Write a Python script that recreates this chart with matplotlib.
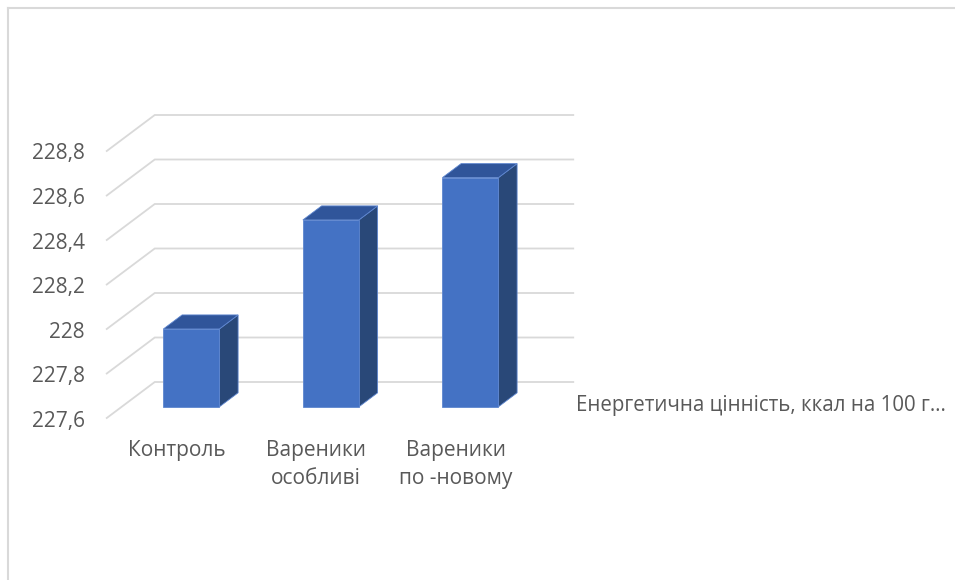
import matplotlib.pyplot as plt
from matplotlib.patches import Polygon

categories = ["Контроль", "Вареники\nособливі", "Вареники\nпо -новому"]
values = [227.95, 228.44, 228.63]
y_ticks = [227.6, 227.8, 228.0, 228.2, 228.4, 228.6, 228.8]
tick_labels = ["227,6", "227,8", "228", "228,2", "228,4", "228,6", "228,8"]
series_name = "Енергетична цінність, ккал на 100 г…"

W, H = 955, 580
px_cat = 139.5      # pixels per category step
px_val = 222.5      # pixels per value unit
x0_px, y0_px = 176.5, 418   # pixel of (category 0, 227.6) on front plane

# oblique depth: full depth in data units
depth_x = 48 / px_cat
depth_y = 36 / px_val

plt.rcParams['font.family'] = ['Open Sans', 'DejaVu Sans']
text_color = "#595959"
grid_color = "#D9D9D9"

fig = plt.figure(figsize=(W / 100, H / 100), dpi=100)
ax = fig.add_axes([0, 0, 1, 1])
ax.set_xlim(-x0_px / px_cat, (W - x0_px) / px_cat)
ax.set_ylim(227.6 - (H - y0_px) / px_val, 227.6 + y0_px / px_val)
ax.axis("off")


def proj(x, v, d):
    return x + d * depth_x, v + d * depth_y


x_left, x_right = -0.5, 2.5
vmin = y_ticks[0]

# gridlines: side wall (diagonal) and back wall
for t, lab in zip(y_ticks, tick_labels):
    fx, fy = proj(x_left, t, 0)
    bx, by = proj(x_left, t, 1)
    ex, ey = proj(x_right, t, 1)
    ax.plot([fx, bx, ex], [fy, by, ey], color=grid_color, lw=1.3,
            solid_joinstyle="miter", zorder=1)
    ax.text(fx - 22 / px_cat, fy - 3 / px_val, lab, ha="right", va="center",
            fontsize=15, color=text_color)

# 3D bars
bar_w = 56 / px_cat
d_front, d_back = 0.31, 0.70
front_c = "#4472C4"
side_c = "#294878"
top_c = "#30559A"
for i, v in enumerate(values):
    xl, xr = i - bar_w / 2, i + bar_w / 2
    front = [proj(xl, vmin, d_front), proj(xr, vmin, d_front),
             proj(xr, v, d_front), proj(xl, v, d_front)]
    side = [proj(xr, vmin, d_front), proj(xr, vmin, d_back),
            proj(xr, v, d_back), proj(xr, v, d_front)]
    top = [proj(xl, v, d_front), proj(xr, v, d_front),
           proj(xr, v, d_back), proj(xl, v, d_back)]
    for poly, c in [(side, side_c), (top, top_c), (front, front_c)]:
        ax.add_patch(Polygon(poly, closed=True, facecolor=c,
                             edgecolor="#5E86CF", lw=0.6, zorder=3))

# category labels
for i, c in enumerate(categories):
    cx, cy = proj(i, vmin, 0)
    ax.text(cx, cy - 22 / px_val, c, ha="center", va="top", fontsize=15,
            color=text_color, linespacing=1.45)

# series label at the right
lx, ly = proj(x_right, vmin, 1)
ax.text(lx + 3 / px_cat, ly - 24 / px_val, series_name, ha="left",
        va="center", fontsize=14.8, color=text_color)

# chart border
fig.add_artist(plt.Line2D([8 / W, 8 / W], [0, 1 - 8 / H], color=grid_color,
                          lw=1.5, transform=fig.transFigure))
fig.add_artist(plt.Line2D([8 / W, 1], [1 - 8 / H, 1 - 8 / H], color=grid_color,
                          lw=1.5, transform=fig.transFigure))

fig.savefig("out.png", dpi=100, facecolor="white")
